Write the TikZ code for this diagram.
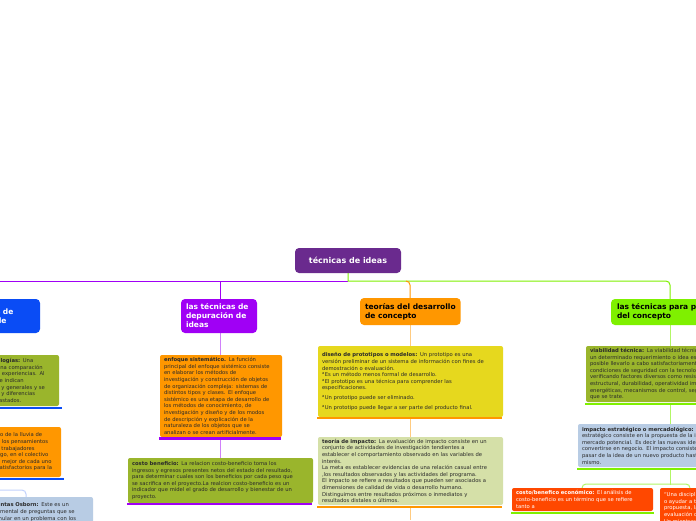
\documentclass[tikz,border=0pt]{standalone}
\usepackage{fontspec}
\setmainfont{DejaVu Sans}
\definecolor{cpur}{HTML}{6A2A8E}
\definecolor{vio}{HTML}{A000F5}
\definecolor{blu}{HTML}{0A4CF5}
\definecolor{org}{HTML}{FF9700}
\definecolor{grn}{HTML}{7FF000}
\definecolor{oli}{HTML}{9AB52C}
\definecolor{yel}{HTML}{E6D81E}
\definecolor{lgr}{HTML}{D5E0A8}
\definecolor{lbl}{HTML}{B8CCE4}
\definecolor{red}{HTML}{FF4800}
\definecolor{txt}{HTML}{2A2A2A}
\newcommand\bodyf{\fontsize{5.25}{6.6}\selectfont}
\newcommand\headf{\fontsize{7.5}{9}\selectfont\bfseries}
\tikzset{
 bbox/.style={anchor=north west,inner xsep=4pt,inner ysep=0pt,align=left,rounded corners=2pt,font=\bodyf,text=txt,outer sep=0pt},
 hbox/.style={anchor=north west,inner xsep=6pt,inner ysep=0pt,align=left,rounded corners=4pt,font=\headf,outer sep=0pt},
 uline/.style={line width=2.6pt},
}
\begin{document}
\begin{tikzpicture}[x=1pt,y=-1pt]
\useasboundingbox (0,0) rectangle (696,520);
\clip (0,0) rectangle (696,520);
\fill[white] (0,0) rectangle (696,520);
% connectors
\draw[vio,line width=1pt] (348,281) -- (0,281);
\draw[grn,line width=1pt] (348,273) -- (348,281) -- (666,281) arc (-90:0:4) -- (670,299);
\draw[vio,line width=1pt] (220,281) -- (220,299);
\draw[org,line width=1pt] (406,281) arc (-90:0:4) -- (410,298);
\draw[vio!50,line width=1pt] (220,333) -- (220,355) (220,438) -- (220,458);
\draw[org!50,line width=1pt] (410,325) -- (410,346) (410,418) -- (410,437) (410,507) -- (410,520);
\draw[grn!60,line width=1pt] (670,325) -- (670,346) (670,404) -- (670,424) (670,469) -- (670,485);
\draw[grn!60,line width=1pt] (582,488) arc (180:270:4) -- (686,484) arc (-90:0:4);
\draw[blu!25,line width=1pt] (0,490) -- (22,490) arc (-90:0:4) -- (26,497);
% central
\node[hbox,fill=cpur,text=white,minimum width=106pt,minimum height=25pt,anchor=center,font=\fontsize{8}{9}\selectfont\bfseries] (c) at (348,260.5) {técnicas de ideas};
% titles
\node[hbox,fill=blu,text=white,text width=44pt,minimum height=34pt,inner xsep=0pt] (t1) at (-4,299) {s de\\ de};
\node[hbox,fill=vio,text=white,text width=66pt,minimum height=34pt,inner xsep=5pt] (t2) at (181,299) {las técnicas de\\depuración de\\ideas};
\node[hbox,fill=org,text=black,minimum width=100pt,minimum height=27pt,inner xsep=5pt] (t3) at (360,298) {teorías del desarrollo\\de concepto};
\node[hbox,fill=grn,text=black,text width=130pt,minimum height=26pt] (t4) at (611,299) {las técnicas para probar\\del concepto};
% left column
\node[bbox,fill=oli,text width=61pt,minimum height=51pt,inner xsep=1pt] (l1) at (-4,355) {\textbf{alogías:} Una\\una comparación\\ o experiencias. Al\\se indican\\s y generales y se\\s y diferencias\\rastados.};
\draw[blu,uline] (0,408) -- (62,408);
\node[bbox,fill=org,text width=63pt,minimum height=50pt,inner xsep=1pt] (l2) at (-4,427) {vo de la lluvia de\\o los pensamientos\\s trabajadores\\ego, en el colectivo\\o mejor de cada uno\\ satisfactorios para la};
\draw[blu,uline] (0,479) -- (64,479);
\node[bbox,fill=lbl,text width=95pt,minimum height=30pt,anchor=north west,inner xsep=1pt] (l3) at (-4,497) {\textbf{untas Osborn:} Este es un\\amental de preguntas que se\\mular en un problema con los\\};
% purple branch
\node[bbox,fill=org,text width=114pt,minimum height=82pt] (p1) at (160,355) {\textbf{enfoque sistemático.} La función\\principal del enfoque sistémico consiste\\en elaborar los métodos de\\investigación y construcción de objetos\\de organización compleja: sistemas de\\distintos tipos y clases. El enfoque\\sistémico es una etapa de desarrollo de\\los métodos de conocimiento, de\\investigación y diseño y de los modos\\de descripción y explicación de la\\naturaleza de los objetos que se\\analizan o se crean artificialmente.};
\draw[vio,uline] (159,438.5) -- (281,438.5);
\node[bbox,fill=oli,text width=177pt,minimum height=45pt] (p2) at (128,458) {\textbf{costo beneficio:} La relacion costo-beneficio toma los\\ingresos y egresos presentes netos del estado del resultado,\\para determinar cuales son los beneficios por cada peso que\\se sacrifica en el proyecto.La realcion costo-beneficio es un\\indicador que midel el grado de desarrollo y bienestar de un\\proyecto.};
\draw[vio,uline] (127,504) -- (312,504);
% orange branch
\node[bbox,fill=yel,text width=177pt,minimum height=71pt] (o1) at (318,346) {\textbf{diseño de prototipos o modelos:} Un prototipo es una\\versión preliminar de un sistema de información con fines de\\demostración o evaluación.\\\textsuperscript{a}Es un método menos formal de desarrollo.\\\textsuperscript{a}El prototipo es una técnica para comprender las\\especificaciones.\\[3pt]\textsuperscript{a}Un prototipo puede ser eliminado.\\[3pt]\textsuperscript{a}Un prototipo puede llegar a ser parte del producto final.};
\draw[org,uline] (317,418) -- (502,418);
\node[bbox,fill=lgr,text width=177pt,minimum height=68pt] (o2) at (318,437) {\textbf{teoría de impacto:} La evaluación de impacto consiste en un\\conjunto de actividades de investigación tendientes a\\establecer el comportamiento observado en las variables de\\interés.\\La meta es establecer evidencias de una relación casual entre\\,los resultados observados y las actividades del programa.\\El impacto se refiere a resultados que pueden ser asociados a\\dimensiones de calidad de vida o desarrollo humano.\\Distinguimos entre resultados próximos o inmediatos y\\resultados distales o últimos.};
\draw[org,uline] (317,507) -- (502,507);
% green branch
\node[bbox,fill=oli,text width=170pt,minimum height=56pt] (g1) at (586,346) {\textbf{viabilidad técnica:} La viabilidad técnica se refiere a\\un determinado requerimiento o idea es\\posible llevarlo a cabo satisfactoriamente y en\\condiciones de seguridad con la tecnología\\verificando factores diversos como resistencia\\estructural, durabilidad, operatividad implicaciones\\energéticas, mecanismos de control, según el caso de\\que se trate.};
\draw[grn,uline] (585,404) -- (696,404);
\node[bbox,fill=lbl,text width=175pt,minimum height=43pt] (g2) at (578,424) {\textbf{impacto estratégico o mercadológico:} El impacto\\estratégico consiste en la propuesta de la idea al\\mercado potencial. Es decir las nuevas ideas pueden\\convertirse en negocio. El impacto consiste en\\pasar de la idea de un nuevo producto hasta el\\mismo.};
\draw[grn,uline] (577,469) -- (696,469);
\node[bbox,fill=red,text=white,text width=133pt,minimum height=23pt] (g3) at (512,488) {\textbf{costo/benefico económico:} El análisis de\\costo-beneficio es un término que se refiere\\tanto a};
\draw[grn,uline] (511,513) -- (654,513);
\node[bbox,fill=red,text=white,text width=60pt,minimum height=40pt] (g4) at (660,488) {“Una disciplina\\o ayudar a tomar\\propuesta, la\\evaluación de\\Un mientras};
\end{tikzpicture}
\end{document}
